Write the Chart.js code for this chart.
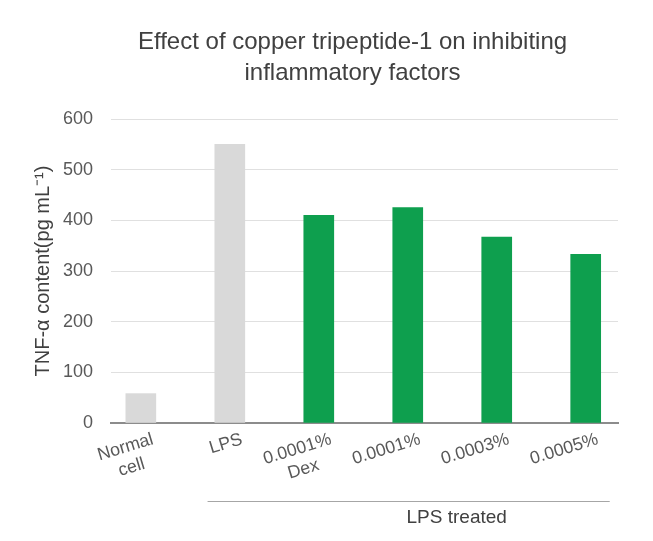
<!DOCTYPE html>
<html>
<head>
<meta charset="utf-8">
<script src="https://cdn.jsdelivr.net/npm/chart.js@4/dist/chart.umd.min.js"></script>
<style>
  html, body { margin: 0; padding: 0; background: #ffffff; }
  #wrap { width: 653px; height: 541px; }
</style>
</head>
<body>
<div id="wrap"><canvas id="c" width="653" height="541"></canvas></div>
<script>
// ---- data ----
const categories = [["Normal", "cell"], ["LPS"], ["0.0001%", "Dex"], ["0.0001%"], ["0.0003%"], ["0.0005%"]];
const tnfValues = [58, 550, 410, 425, 367, 333];
const yTicks = [0, 100, 200, 300, 400, 500, 600];
const chartTitle = ["Effect of copper tripeptide-1 on inhibiting", "inflammatory factors"];
const yTitle = "TNF-\u03b1 content(pg mL\u207b\u00b9)";
const groupLabel = "LPS treated";
const groupStart = 1; // first category index of the LPS treated group
const groupEnd = 5;   // last category index of the LPS treated group

const FONT = "'Liberation Sans', Arial, sans-serif";
const GRAY = '#d9d9d9';
const GREEN = '#0e9f4e';
const LABEL_ROT = 17 * Math.PI / 180;

// chart title, centred a little right of the canvas centre like the original
const titlePlugin = {
  id: 'titlePlugin',
  afterDraw(chart) {
    const ctx = chart.ctx;
    const a = chart.chartArea;
    const cx = (a.left + a.right) / 2 - 12;
    ctx.save();
    ctx.fillStyle = '#404040';
    ctx.font = "24px " + FONT;
    ctx.textAlign = 'center';
    ctx.textBaseline = 'middle';
    chartTitle.forEach((line, i) => ctx.fillText(line, cx, a.top - 77 + i * 31.5));
    ctx.restore();
  }
};

// rotated category labels, each line centred in its block
const xLabels = {
  id: 'xLabels',
  afterDraw(chart) {
    const ctx = chart.ctx;
    const x = chart.scales.x;
    const a = chart.chartArea;
    const lh = 21;
    ctx.save();
    ctx.fillStyle = '#595959';
    ctx.font = "17.8px " + FONT;
    ctx.textAlign = 'center';
    ctx.textBaseline = 'middle';
    categories.forEach((lines, i) => {
      const w = Math.max(...lines.map(l => ctx.measureText(l).width));
      ctx.save();
      ctx.translate(x.getPixelForValue(i) + 9, a.bottom + 6);
      ctx.rotate(-LABEL_ROT);
      lines.forEach((l, k) => ctx.fillText(l, -w / 2, lh * (k + 0.5)));
      ctx.restore();
    });
    ctx.restore();
  }
};

const groupBracket = {
  id: 'groupBracket',
  afterDraw(chart) {
    const x = chart.scales.x;
    const area = chart.chartArea;
    const step = x.getPixelForValue(1) - x.getPixelForValue(0);
    const x1 = x.getPixelForValue(groupStart) - 0.25 * step;
    const x2 = x.getPixelForValue(groupEnd) + 0.27 * step;
    const yLine = area.bottom + 78;
    const ctx = chart.ctx;
    ctx.save();
    ctx.strokeStyle = '#a6a6a6';
    ctx.lineWidth = 1;
    ctx.beginPath();
    ctx.moveTo(x1, yLine + 0.5);
    ctx.lineTo(x2, yLine + 0.5);
    ctx.stroke();
    ctx.fillStyle = '#404040';
    ctx.font = "19px " + FONT;
    ctx.textAlign = 'center';
    ctx.textBaseline = 'middle';
    ctx.fillText(groupLabel, x.getPixelForValue(3.55), yLine + 17);
    ctx.restore();
  }
};

new Chart(document.getElementById('c'), {
  type: 'bar',
  data: {
    datasets: [{
      data: tnfValues.map((v, i) => ({ x: i, y: v })),
      backgroundColor: (ctx) => ctx.dataIndex < groupStart + 1 ? GRAY : GREEN,
      borderWidth: 0,
      barThickness: 30
    }]
  },
  options: {
    responsive: false,
    animation: false,
    layout: { padding: { left: 20, right: 35, top: 119, bottom: 118 } },
    plugins: {
      legend: { display: false },
      tooltip: { enabled: false },
      title: { display: false }
    },
    scales: {
      x: {
        type: 'linear',
        offset: false,
        min: -0.335,
        max: 5.363,
        grid: { display: false, drawTicks: false, offset: false },
        border: { display: true, color: '#8c8c8c', width: 2 },
        afterBuildTicks: (scale) => { scale.ticks = categories.map((c, i) => ({ value: i })); },
        ticks: { display: false }
      },
      y: {
        min: 0,
        max: 600,
        afterBuildTicks: (scale) => { scale.ticks = yTicks.map(v => ({ value: v })); },
        grid: {
          drawTicks: false,
          color: (ctx) => ctx.tick && ctx.tick.value === 0 ? 'rgba(0,0,0,0)' : '#e0e0e0',
          lineWidth: 1
        },
        border: { display: false },
        ticks: {
          padding: 18,
          color: '#595959',
          font: { family: FONT, size: 18 }
        },
        title: {
          display: true,
          text: yTitle,
          color: '#404040',
          font: { family: FONT, size: 20, weight: 'normal' },
          padding: { top: 11, bottom: -10 }
        }
      }
    }
  },
  plugins: [titlePlugin, xLabels, groupBracket]
});
</script>
</body>
</html>
